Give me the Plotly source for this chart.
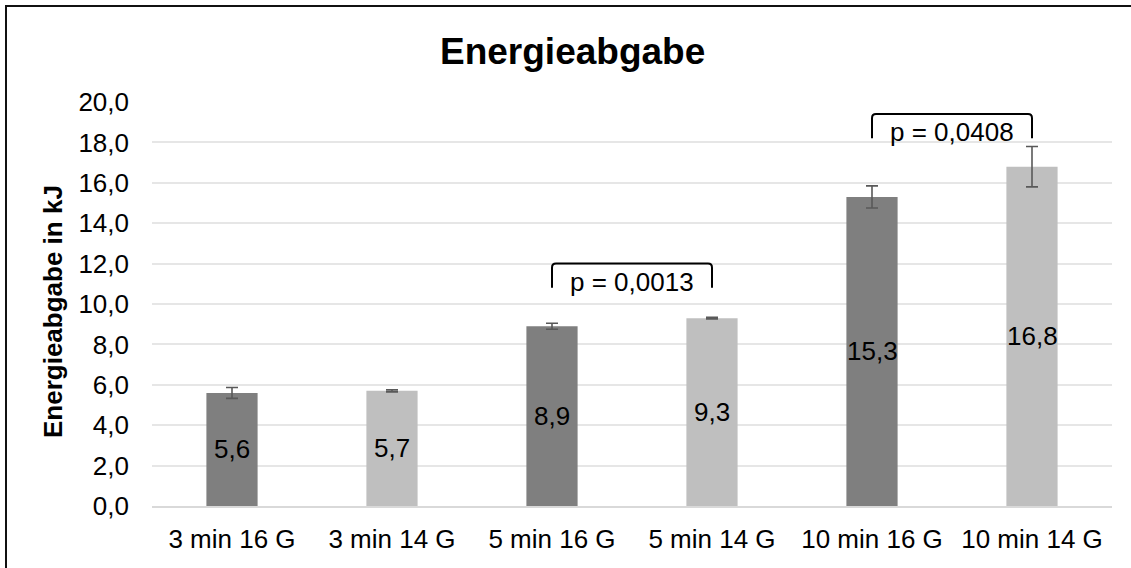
import plotly.graph_objects as go

# Energy output per protocol (kJ), mean and error (±)
categories = ["3 min 16 G", "3 min 14 G", "5 min 16 G", "5 min 14 G", "10 min 16 G", "10 min 14 G"]
values = [5.6, 5.7, 8.9, 9.3, 15.3, 16.8]
errors = [0.27, 0.05, 0.15, 0.04, 0.55, 1.0]
y_ticks = [0, 2, 4, 6, 8, 10, 12, 14, 16, 18, 20]

# Pairwise comparisons: (index a, index b, p-value label)
comparisons = [(2, 3, "p = 0,0013"), (4, 5, "p = 0,0408")]
bracket_levels = [12.0, 19.4]

DARK = "#7f7f7f"
LIGHT = "#bfbfbf"
FONT = "Arial, Liberation Sans, sans-serif"
FS = 26

W, H = 1131, 568
L, R, T, B = 152, 19, 102, 62
plot_w = W - L - R
plot_h = H - T - B


def px_to_paper_x(px):
    return (px - L) / plot_w


def px_to_paper_y(py):
    return (H - B - py) / plot_h


xs = list(range(len(categories)))
colors = [DARK if i % 2 == 0 else LIGHT for i in xs]

fig = go.Figure()
fig.add_trace(go.Bar(
    x=xs,
    y=values,
    width=0.32,
    marker=dict(color=colors, line=dict(width=0)),
    error_y=dict(type="data", array=errors, visible=True,
                 color="#595959", thickness=1.6, width=6),
    hoverinfo="skip",
))

annotations = []
# value labels centred in each bar
for x, v in zip(xs, values):
    annotations.append(dict(
        x=x, y=v / 2, xref="x", yref="y",
        text=f"{v:.1f}".replace(".", ","),
        showarrow=False, font=dict(family=FONT, size=FS, color="#000000"),
        xanchor="center", yanchor="middle",
    ))

shapes = []
# significance brackets with rounded corners
dx, dy = 0.025, 0.2
for (a, b, label), top in zip(comparisons, bracket_levels):
    leg = top - 1.19
    path = (f"M {a},{leg} L {a},{top - dy} Q {a},{top} {a + dx},{top} "
            f"L {b - dx},{top} Q {b},{top} {b},{top - dy} L {b},{leg}")
    shapes.append(dict(type="path", path=path, xref="x", yref="y",
                       line=dict(color="#000000", width=2)))
    annotations.append(dict(
        x=(a + b) / 2, y=top - 0.89, xref="x", yref="y",
        text=label, showarrow=False,
        font=dict(family=FONT, size=FS, color="#000000"),
        xanchor="center", yanchor="middle",
    ))

# chart title and y-axis title
annotations.append(dict(
    x=px_to_paper_x(572), y=px_to_paper_y(52), xref="paper", yref="paper",
    text="<b>Energieabgabe</b>", showarrow=False,
    font=dict(family=FONT, size=37, color="#000000"),
    xanchor="center", yanchor="middle",
))
annotations.append(dict(
    x=px_to_paper_x(53), y=px_to_paper_y(312), xref="paper", yref="paper",
    text="<b>Energieabgabe in kJ</b>", showarrow=False, textangle=-90,
    font=dict(family=FONT, size=FS, color="#000000"),
    xanchor="center", yanchor="middle",
))

# outer chart frame
shapes.append(dict(type="rect", xref="paper", yref="paper",
                   x0=px_to_paper_x(6), x1=px_to_paper_x(1300),
                   y0=px_to_paper_y(700), y1=px_to_paper_y(6),
                   line=dict(color="#111111", width=2), layer="above"))

fig.update_layout(
    width=W, height=H,
    margin=dict(l=L, r=R, t=T, b=B, pad=0),
    paper_bgcolor="#ffffff", plot_bgcolor="#ffffff",
    separators=",.",
    showlegend=False,
    font=dict(family=FONT, size=FS, color="#000000"),
    annotations=annotations,
    shapes=shapes,
    xaxis=dict(
        range=[-0.5, len(categories) - 0.5],
        tickmode="array", tickvals=xs, ticktext=categories,
        showgrid=False, zeroline=False,
        showline=True, linecolor="#d9d9d9", linewidth=2,
        ticks="", ticklabelstandoff=9,
        tickfont=dict(family=FONT, size=FS, color="#000000"),
    ),
    yaxis=dict(
        range=[0, 20], tickmode="array", tickvals=y_ticks,
        tickformat=".1f",
        showgrid=True, gridcolor="#e6e6e6", gridwidth=1.6,
        zeroline=False, showline=False,
        ticks="", ticklabelstandoff=22,
        tickfont=dict(family=FONT, size=FS, color="#000000"),
    ),
)

fig.write_html("out.html")
